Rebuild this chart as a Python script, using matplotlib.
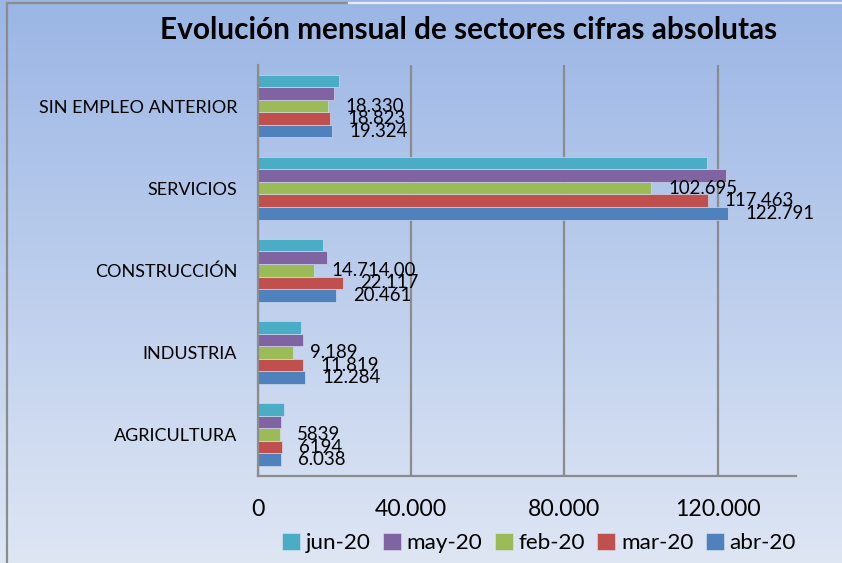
import numpy as np
import matplotlib
matplotlib.use('Agg')
import matplotlib.pyplot as plt
from matplotlib.lines import Line2D

plt.rcParams['font.family'] = ['Lato', 'DejaVu Sans']

# categories bottom -> top
sectores = ['AGRICULTURA', 'INDUSTRIA', 'CONSTRUCCIÓN', 'SERVICIOS', 'SIN EMPLEO ANTERIOR']

# series, drawn bottom -> top inside each group
abr_20 = [6038, 12284, 20461, 122791, 19324]
mar_20 = [6194, 11819, 22117, 117463, 18823]
feb_20 = [5839, 9189, 14714, 102695, 18330]
may_20 = [5950, 11750, 18100, 122300, 19800]
jun_20 = [6700, 11200, 17000, 117300, 21250]

abr_lbl = ['6.038', '12.284', '20.461', '122.791', '19.324']
mar_lbl = ['6194', '11.819', '22.117', '117.463', '18.823']
feb_lbl = ['5839', '9.189', '14.714,00', '102.695', '18.330']

series = [('abr-20', abr_20, '#4F81BD', abr_lbl),
          ('mar-20', mar_20, '#C0504D', mar_lbl),
          ('feb-20', feb_20, '#9BBB59', feb_lbl),
          ('may-20', may_20, '#8064A2', None),
          ('jun-20', jun_20, '#4BACC6', None)]

xticks = [0, 40000, 80000, 120000]
xtick_lbl = ['0', '40.000', '80.000', '120.000']

fig = plt.figure(figsize=(8.42, 5.63), dpi=100)

# background gradient
bg = fig.add_axes([0, 0, 1, 1], zorder=-10)
top = np.array([0.608, 0.714, 0.898])
bot = np.array([0.871, 0.902, 0.957])
t = np.linspace(0, 1, 256)[:, None]
grad = (top * (1 - t) + bot * t)[:, None, :]
bg.imshow(grad, aspect='auto', extent=[0, 1, 0, 1])
bg.set_axis_off()

fig.add_artist(Line2D([7/842, 7/842], [0, 1 - 3/563], color='#8c8c8c', lw=1.6))
fig.add_artist(Line2D([7/842, 349/842], [1 - 3/563, 1 - 3/563], color='#8c8c8c', lw=1.6))
fig.add_artist(Line2D([349/842, 1], [1 - 3/563, 1 - 3/563], color='#e8ecf2', lw=1.6))

ax = fig.add_axes([258/842, 1 - 475.7/563, (795.7 - 258)/842, (475.7 - 65)/563])
ax.set_facecolor('none')

h = 0.153
y = np.arange(len(sectores))
for k, (name, vals, col, lbls) in enumerate(series):
    pos = y + (k - 2) * h
    ax.barh(pos, vals, height=h, color=col, edgecolor='#dbe3f0', linewidth=0.4,
            label=name, zorder=3)
    if lbls is not None:
        for yy, v, s in zip(pos, vals, lbls):
            ax.annotate(s, (v, yy), xytext=(17, 0), textcoords='offset pixels',
                        ha='left', va='center', fontsize=13.4, color='black', zorder=5)

ax.set_xlim(0, 140400)
ax.set_ylim(-0.5, 4.5)
ax.set_xticks(xticks)
ax.set_xticklabels(xtick_lbl, fontsize=16.6)
ax.set_yticks(y)
ax.set_yticklabels(sectores, fontsize=13)
ax.tick_params(axis='x', length=0, pad=17)
ax.tick_params(axis='y', length=0, pad=15)
ax.grid(axis='x', color='#8c8c8c', lw=1.6, zorder=1)
for s in ['top', 'right']:
    ax.spines[s].set_visible(False)
for s in ['left', 'bottom']:
    ax.spines[s].set_color('#8c8c8c')
    ax.spines[s].set_linewidth(1.6)
    ax.spines[s].set_zorder(4)

fig.text(469/842, 1 - 30/563, 'Evolución mensual de sectores cifras absolutas',
         ha='center', va='center', fontsize=21.4, fontweight='bold')

handles, labels = ax.get_legend_handles_labels()
fig.legend(handles[::-1], labels[::-1], ncol=5, loc='center',
           bbox_to_anchor=(539/842, 1 - 543/563), frameon=False, fontsize=16.2,
           handlelength=0.8, handleheight=0.8, handletextpad=0.25, columnspacing=0.55,
           borderpad=0, borderaxespad=0)

fig.savefig('out.png', dpi=100)
